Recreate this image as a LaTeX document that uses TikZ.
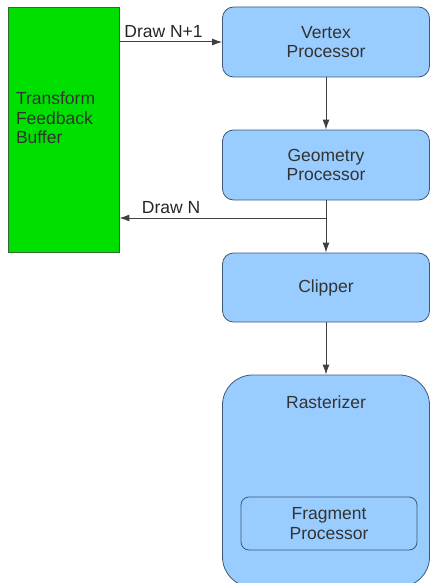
\documentclass[tikz,border=0pt]{standalone}
\usepackage{fontspec}
\setmainfont{Liberation Sans}
\usetikzlibrary{positioning,arrows.meta}
\definecolor{stageblue}{HTML}{99CCFF}
\definecolor{stageline}{HTML}{3E5A78}
\definecolor{buffgreen}{HTML}{00E000}
\definecolor{buffline}{HTML}{2E6B2E}
\definecolor{textgray}{HTML}{333333}

\begin{document}
\begin{tikzpicture}[x=1pt,y=-1pt,
	stage/.style={shape=rectangle,rounded corners=11pt,draw=stageline,line width=0.8pt,fill=stageblue,text=textgray,minimum width=207pt,minimum height=70pt,align=center,font=\fontsize{17.5}{19.5}\selectfont},
	link/.style={-{Latex[length=10pt,width=7pt]},draw=black!75,line width=1pt},
	tag/.style={text=black!85,font=\fontsize{17.5}{19.5}\selectfont}]
			\useasboundingbox (0,0) rectangle (430,583);
			% buffer on the left
			\node[shape=rectangle,draw=buffline,line width=0.8pt,fill=buffgreen,minimum width=111pt,minimum height=245pt] (tfb) at (63.5,129.5) {};
			\node[tag,anchor=west,align=left,text=black!80] (tfb-text) at (12.5,118) {Transform\\Feedback\\Buffer};
			
			% pipeline stages
			\node[stage] (vp) at (326,42) {Vertex\\Processor};
			\node[stage] (gp) at (326,165) {Geometry\\Processor};
			\node[stage,minimum height=69pt] (clip) at (326,287.5) {Clipper};
			\node[stage,rounded corners=30pt,minimum height=212pt] (rast) at (326,481) {};
			\node[tag,text=textgray] (rast-text) at (326,402) {Rasterizer};
			\node[stage,rounded corners=8pt,minimum width=176pt,minimum height=53pt] (fp) at (329,523.5) {Fragment\\Processor};
			
			\coordinate (split) at (gp.south |- 0,218);
			\draw[link](tfb.east |- vp.west) -- node[tag,above,pos=0.43] {Draw N+1} (vp.west);
			\draw[link](vp) -- (gp);
			\draw[link](gp) -- (clip);
			\draw[link](split) -- node[tag,above,pos=0.75] {Draw N} (tfb.east |- split);
			\draw[link](clip) -- (rast);
			\end{tikzpicture}
\end{document}
